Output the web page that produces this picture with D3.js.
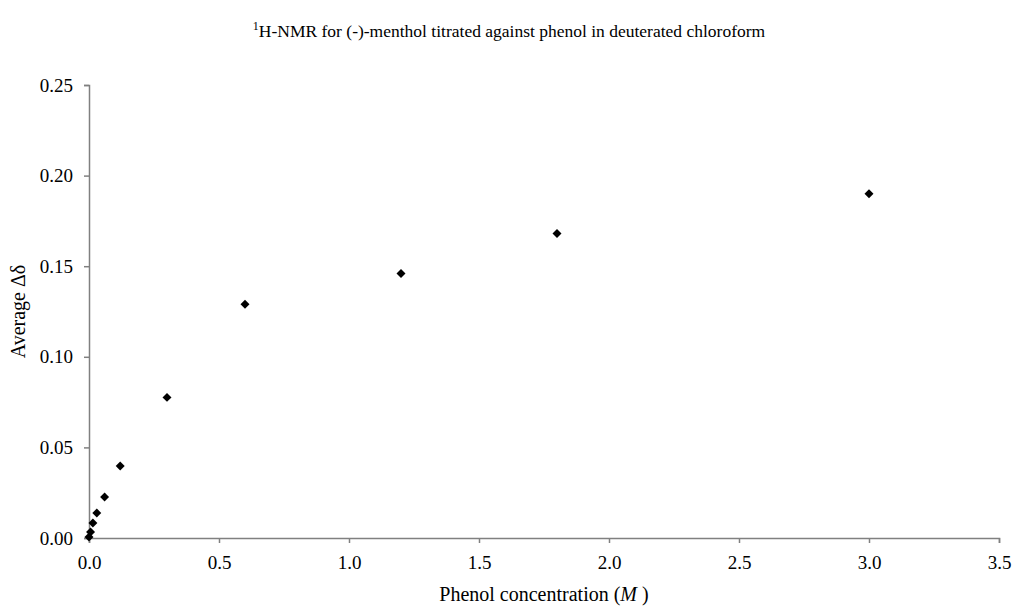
<!DOCTYPE html>
<html>
<head>
<meta charset="utf-8">
<script src="https://cdn.jsdelivr.net/npm/d3@7"></script>
<style>
  html, body { margin: 0; padding: 0; background: #fff; }
  svg { display: block; font-family: "Liberation Serif", "Times New Roman", serif; }
</style>
</head>
<body>
<svg id="chart" width="1014" height="607"></svg>
<script>
// Phenol concentration (M) and averaged chemical shift change
const concentration = [0, 0.006, 0.015, 0.03, 0.06, 0.12, 0.3, 0.6, 1.2, 1.8, 3.0];
const avgShift = [0.0005, 0.0033, 0.0083, 0.0138, 0.0226, 0.0397, 0.0776, 0.129, 0.146, 0.168, 0.190];
const xTicks = [0, 0.5, 1.0, 1.5, 2.0, 2.5, 3.0, 3.5];
const yTicks = [0, 0.05, 0.10, 0.15, 0.20, 0.25];

const svg = d3.select("#chart");
const margin = { left: 89, right: 15, top: 85, bottom: 69 };
const W = 1014, H = 607;

const x = d3.scaleLinear().domain([0, 3.5]).range([margin.left, W - margin.right]);
const y = d3.scaleLinear().domain([0, 0.25]).range([H - margin.bottom, margin.top]);

const axisColor = "#808080";
const tickFont = "19px";

const xAxis = svg.append("g")
  .attr("transform", `translate(0,${y(0)})`)
  .call(d3.axisBottom(x).tickValues(xTicks).tickFormat(d3.format(".1f")).tickSizeOuter(0).tickSize(5).tickPadding(13));

const yAxis = svg.append("g")
  .attr("transform", `translate(${x(0)},0)`)
  .call(d3.axisLeft(y).tickValues(yTicks).tickFormat(d3.format(".2f")).tickSizeOuter(0).tickSize(5).tickPadding(11));

[xAxis, yAxis].forEach(g => {
  g.select(".domain").attr("stroke", axisColor).attr("stroke-width", 1.5);
  g.selectAll(".tick line").attr("stroke", axisColor).attr("stroke-width", 1.5);
  g.selectAll(".tick text")
    .attr("fill", "#000")
    .style("font-family", "'Liberation Serif', 'Times New Roman', serif")
    .style("font-size", tickFont);
});

// data markers: filled black diamonds
const diamond = d3.symbol().type(d3.symbolSquare).size(40);
svg.append("g")
  .selectAll("path")
  .data(concentration.map((c, i) => [c, avgShift[i]]))
  .join("path")
  .attr("d", diamond)
  .attr("transform", d => `translate(${x(d[0])},${y(d[1])}) rotate(45)`)
  .attr("fill", "#000");

// title with superscript 1
const title = svg.append("text")
  .attr("x", 509)
  .attr("y", 37)
  .attr("text-anchor", "middle")
  .style("font-size", "17.5px");
title.append("tspan").attr("baseline-shift", "super").style("font-size", "12px").text("1");
title.append("tspan").text("H-NMR for (-)-menthol titrated against phenol in deuterated chloroform");

// x axis title
const xt = svg.append("text")
  .attr("x", (x(0) + x(3.5)) / 2)
  .attr("y", 601)
  .attr("text-anchor", "middle")
  .style("font-size", "20px");
xt.append("tspan").text("Phenol concentration (");
xt.append("tspan").style("font-style", "italic").text("M");
xt.append("tspan").text(" )");

// y axis title
svg.append("text")
  .attr("transform", `translate(25,${(y(0) + y(0.25)) / 2}) rotate(-90)`)
  .attr("text-anchor", "middle")
  .style("font-size", "20px")
  .text("Average Δδ");
</script>
</body>
</html>
